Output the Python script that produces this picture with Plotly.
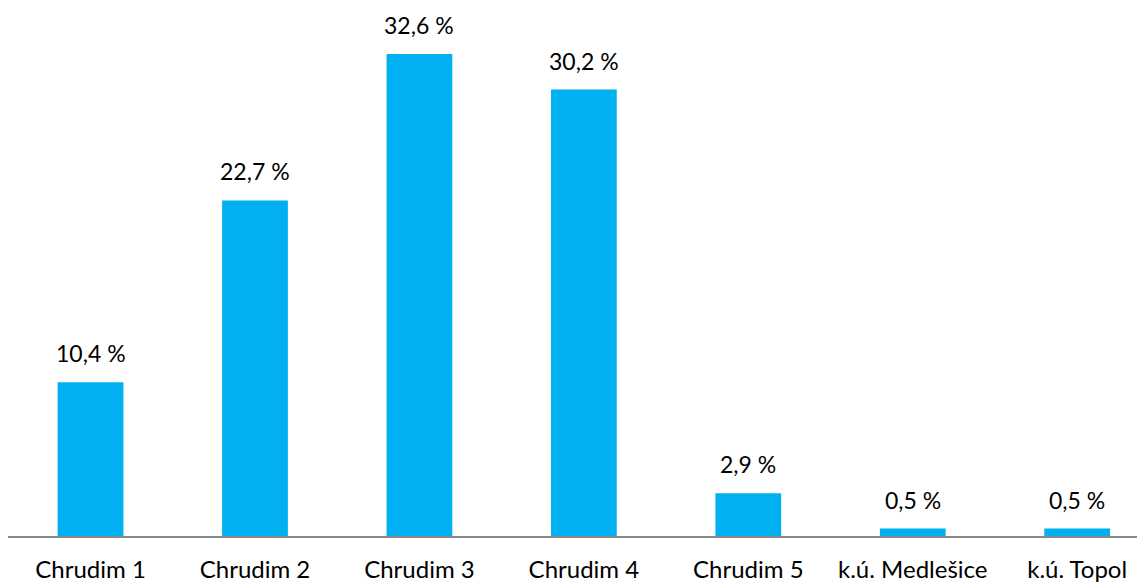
import plotly.graph_objects as go

categories = ["Chrudim 1", "Chrudim 2", "Chrudim 3", "Chrudim 4", "Chrudim 5", "k.ú. Medlešice", "k.ú. Topol"]
values = [10.4, 22.7, 32.6, 30.2, 2.9, 0.5, 0.5]
labels = ["10,4 %", "22,7 %", "32,6 %", "30,2 %", "2,9 %", "0,5 %", "0,5 %"]

font_family = "Lato, Open Sans, sans-serif"

fig = go.Figure(go.Bar(
    x=categories,
    y=values,
    marker=dict(color="#00B0F0", line=dict(width=0)),
    hoverinfo="skip",
))

for c, v, t in zip(categories, values, labels):
    fig.add_annotation(
        x=c, y=v, text=t, showarrow=False,
        xanchor="center", yanchor="bottom", yshift=13,
        font=dict(family=font_family, size=23, color="#000000"),
    )

fig.update_layout(
    width=1145,
    height=583,
    margin=dict(l=0, r=0, t=0, b=55),
    paper_bgcolor="white",
    plot_bgcolor="white",
    bargap=0.6,
    showlegend=False,
    xaxis=dict(
        range=[-0.502, 6.461],
        showline=True,
        linecolor="#898989",
        linewidth=1.5,
        showgrid=False,
        ticks="",
        ticklabelstandoff=11,
        tickfont=dict(family=font_family, size=24, color="#000000"),
        fixedrange=True,
    ),
    yaxis=dict(
        range=[0, 35.72],
        visible=False,
        showgrid=False,
        zeroline=False,
        fixedrange=True,
    ),
)

fig.write_html("out.html")
